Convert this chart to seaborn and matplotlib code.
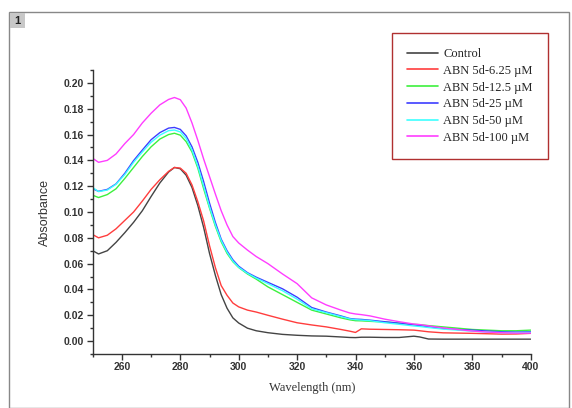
import matplotlib
matplotlib.use("Agg")
import matplotlib.pyplot as plt
import matplotlib.patches as mpatches
from matplotlib.ticker import MultipleLocator
import seaborn as sns
import pandas as pd

wavelength = [250, 252, 255, 258, 261, 264, 267, 270, 273, 276, 278, 280, 282, 284, 286, 288,
              290, 292, 294, 296, 298, 300, 303, 306, 310, 315, 320, 325, 330, 335, 338, 340,
              342, 345, 350, 355, 360, 362, 365, 370, 375, 380, 385, 390, 395, 400]

control = [0.0700, 0.0675, 0.0700, 0.0765, 0.0840, 0.0920, 0.1010, 0.1120, 0.1225, 0.1310, 0.1345,
           0.1335, 0.1285, 0.1190, 0.1050, 0.0880, 0.0680, 0.0510, 0.0360, 0.0255, 0.0180, 0.0140,
           0.0100, 0.0080, 0.0065, 0.0052, 0.0045, 0.0040, 0.0038, 0.0032, 0.0028, 0.0027, 0.0030,
           0.0030, 0.0028, 0.0028, 0.0038, 0.0032, 0.0016, 0.0015, 0.0015, 0.0015, 0.0015, 0.0015,
           0.0015, 0.0015]

abn_6_25 = [0.0825, 0.0800, 0.0820, 0.0870, 0.0935, 0.1000, 0.1085, 0.1175, 0.1250, 0.1315, 0.1345,
            0.1340, 0.1300, 0.1210, 0.1080, 0.0930, 0.0740, 0.0570, 0.0430, 0.0355, 0.0295, 0.0265,
            0.0240, 0.0225, 0.0200, 0.0170, 0.0142, 0.0125, 0.0110, 0.0090, 0.0077, 0.0067, 0.0095,
            0.0092, 0.0090, 0.0088, 0.0085, 0.0080, 0.0072, 0.0064, 0.0062, 0.0060, 0.0057, 0.0054,
            0.0055, 0.0060]

abn_12_5 = [0.1130, 0.1112, 0.1135, 0.1180, 0.1260, 0.1345, 0.1430, 0.1505, 0.1565, 0.1600, 0.1610,
            0.1595, 0.1545, 0.1465, 0.1340, 0.1180, 0.1030, 0.0890, 0.0770, 0.0680, 0.0615, 0.0570,
            0.0520, 0.0480, 0.0420, 0.0360, 0.0300, 0.0240, 0.0210, 0.0180, 0.0165, 0.0158, 0.0157,
            0.0153, 0.0148, 0.0140, 0.0130, 0.0127, 0.0120, 0.0110, 0.0100, 0.0090, 0.0085, 0.0080,
            0.0080, 0.0085]

abn_25 = [0.1180, 0.1160, 0.1175, 0.1218, 0.1300, 0.1398, 0.1480, 0.1560, 0.1615, 0.1650, 0.1655,
          0.1640, 0.1590, 0.1505, 0.1385, 0.1235, 0.1070, 0.0920, 0.0790, 0.0700, 0.0630, 0.0580,
          0.0530, 0.0495, 0.0455, 0.0405, 0.0340, 0.0260, 0.0225, 0.0195, 0.0175, 0.0170, 0.0168,
          0.0162, 0.0150, 0.0138, 0.0125, 0.0120, 0.0110, 0.0098, 0.0090, 0.0085, 0.0078, 0.0072,
          0.0070, 0.0072]

abn_50 = [0.1190, 0.1158, 0.1170, 0.1215, 0.1290, 0.1385, 0.1465, 0.1540, 0.1595, 0.1630, 0.1635,
          0.1620, 0.1570, 0.1480, 0.1355, 0.1200, 0.1040, 0.0900, 0.0780, 0.0690, 0.0620, 0.0572,
          0.0525, 0.0488, 0.0445, 0.0390, 0.0325, 0.0250, 0.0220, 0.0190, 0.0172, 0.0166, 0.0163,
          0.0158, 0.0142, 0.0130, 0.0117, 0.0113, 0.0105, 0.0093, 0.0085, 0.0077, 0.0070, 0.0066,
          0.0066, 0.0067]

abn_100 = [0.1416, 0.1385, 0.1400, 0.1450, 0.1530, 0.1600, 0.1690, 0.1765, 0.1830, 0.1872, 0.1887,
           0.1870, 0.1805, 0.1690, 0.1555, 0.1410, 0.1275, 0.1140, 0.1010, 0.0900, 0.0810, 0.0760,
           0.0705, 0.0655, 0.0600, 0.0520, 0.0445, 0.0335, 0.0280, 0.0240, 0.0218, 0.0210, 0.0205,
           0.0195, 0.0170, 0.0150, 0.0132, 0.0128, 0.0118, 0.0102, 0.0090, 0.0078, 0.0070, 0.0065,
           0.0062, 0.0062]

series_names = ["Control", "ABN 5d-6.25 µM", "ABN 5d-12.5 µM", "ABN 5d-25 µM",
                "ABN 5d-50 µM", "ABN 5d-100 µM"]
series_values = [control, abn_6_25, abn_12_5, abn_25, abn_50, abn_100]
colors = ["#444444", "#ff3d3d", "#3df03d", "#3d3dff", "#3dffff", "#ff3dff"]

rows = []
for name, vals in zip(series_names, series_values):
    for w, v in zip(wavelength, vals):
        rows.append({"Wavelength": w, "Absorbance": v, "Series": name})
df = pd.DataFrame(rows)

sns.set_style("ticks")
plt.rcParams['font.family'] = ['Liberation Sans', 'DejaVu Sans']

fig = plt.figure(figsize=(5.72, 4.08), dpi=100)
ax = fig.add_axes([92.7 / 572, 1 - 354 / 408, (530.7 - 92.7) / 572, (354 - 70) / 408])

sns.lineplot(data=df, x="Wavelength", y="Absorbance", hue="Series",
             hue_order=series_names, palette=dict(zip(series_names, colors)),
             linewidth=1.0, ax=ax, legend=True)

ax.set_xlim(250, 400)
ax.set_ylim(-0.01, 0.21)
ax.xaxis.set_minor_locator(MultipleLocator(10))
ax.yaxis.set_minor_locator(MultipleLocator(0.01))
ax.set_xticks(range(260, 401, 20))
ax.set_yticks([i * 0.02 for i in range(11)])
ax.set_yticklabels([f"{i * 0.02:.2f}" for i in range(11)])
ax.tick_params(axis='both', which='major', direction='out', length=4, width=1,
               labelsize=7.5, labelcolor='#333333', color='#333333', pad=2)
ax.tick_params(axis='both', which='minor', direction='out', length=2.5, width=1, color='#333333')
for lab in ax.get_xticklabels() + ax.get_yticklabels():
    lab.set_fontweight('bold')

for s in ['top', 'right']:
    ax.spines[s].set_visible(False)
for s in ['left', 'bottom']:
    ax.spines[s].set_linewidth(1.0)
    ax.spines[s].set_color('#333333')

ax.set_ylabel("Absorbance", fontsize=9, color='#333333', family=['Liberation Sans'])
ax.set_xlabel("Wavelength (nm)", fontsize=9, color='#333333', family=['Liberation Serif'])
ax.yaxis.set_label_coords(-0.095, 0.5)
ax.xaxis.set_label_coords(0.5, -0.1)

handles, labels = ax.get_legend_handles_labels()
leg = ax.legend(handles, labels, loc='upper left',
                bbox_to_anchor=(392 / 572, 1 - 33 / 408), bbox_transform=fig.transFigure,
                borderaxespad=0.0,
                frameon=True, fancybox=False, shadow=False, borderpad=1.2,
                labelspacing=0.38, handlelength=2.5, handletextpad=0.4,
                prop={'family': 'Liberation Serif', 'size': 9})
leg.get_frame().set_edgecolor('#b03030')
leg.get_frame().set_linewidth(1.0)
leg.get_frame().set_alpha(1.0)
for line in leg.get_lines():
    line.set_linewidth(1.2)

# outer panel frame and panel number
fig.patches.append(mpatches.Rectangle((9 / 572, 0), (569 - 9) / 572, 1 - 12 / 408,
                                      transform=fig.transFigure, fill=False,
                                      edgecolor='#888888', linewidth=1.0))
fig.patches.append(mpatches.Rectangle((10 / 572, 1 - 28 / 408), 15 / 572, 15 / 408,
                                      transform=fig.transFigure, facecolor='#c8c8c8',
                                      edgecolor='none'))
fig.text(17.5 / 572, 1 - 20.5 / 408, "1", ha='center', va='center', fontsize=8,
         fontweight='bold', color='#222222')

fig.savefig("out.png", dpi=100)
